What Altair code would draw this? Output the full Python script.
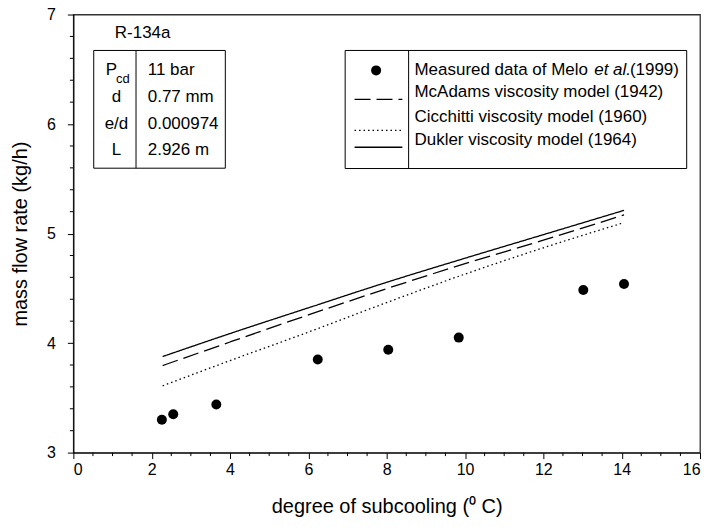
import altair as alt
import pandas as pd

# ---- data ----
meas_x = [2.26, 2.55, 3.65, 6.24, 8.04, 9.84, 13.02, 14.06]
meas_y = [3.30, 3.35, 3.44, 3.85, 3.94, 4.05, 4.485, 4.54]

model_x = [2.28, 4.0, 6.0, 8.0, 10.0, 12.0, 14.06]
dukler_y = [3.877, 4.087, 4.322, 4.555, 4.775, 4.99, 5.212]
mcadams_y = [3.795, 4.01, 4.257, 4.497, 4.725, 4.94, 5.17]
cicchitti_y = [3.61, 3.84, 4.10, 4.37, 4.63, 4.87, 5.10]

models = ["McAdams", "Cicchitti", "Dukler"]

x_major = [0, 2, 4, 6, 8, 10, 12, 14, 16]
x_minor = [0.5, 1, 1.5, 2.5, 3, 3.5, 4.5, 5, 5.5, 6.5, 7, 7.5, 8.5, 9, 9.5,
           10.5, 11, 11.5, 12.5, 13, 13.5, 14.5, 15, 15.5]
y_major = [3, 4, 5, 6, 7]
y_minor = [3.2, 3.4, 3.6, 3.8, 4.2, 4.4, 4.6, 4.8, 5.2, 5.4, 5.6, 5.8,
           6.2, 6.4, 6.6, 6.8]

FONT = "Liberation Sans"

meas_df = pd.DataFrame({"x": meas_x, "y": meas_y})
rows = []
for name, ys in zip(models, [mcadams_y, cicchitti_y, dukler_y]):
    for xv, yv in zip(model_x, ys):
        rows.append({"x": xv, "y": yv, "model": name})
model_df = pd.DataFrame(rows)

dash_scale = alt.Scale(domain=models, range=[[16, 6], [1.5, 3], [1, 0]])

x_enc = alt.X(
    "x:Q",
    scale=alt.Scale(domain=[0, 16], nice=False, zero=False),
    axis=alt.Axis(
        values=x_major, format="d", tickSize=6,
        title="degree of subcooling (\u2070 C)",
        grid=False, labelOverlap=False,
        domainColor="black", tickColor="black", labelColor="black", titleColor="black",
        labelFont=FONT, labelFontSize=16, titleFont=FONT, titleFontSize=20,
        titleFontWeight="normal", labelPadding=3, titlePadding=19,
    ),
)
y_enc = alt.Y(
    "y:Q",
    scale=alt.Scale(domain=[3, 7], nice=False, zero=False),
    axis=alt.Axis(
        values=y_major, format="d", tickSize=6,
        title="mass flow rate (kg/h)",
        grid=False, labelOverlap=False,
        domainColor="black", tickColor="black", labelColor="black", titleColor="black",
        labelFont=FONT, labelFontSize=16, titleFont=FONT, titleFontSize=20,
        titleFontWeight="normal", labelPadding=12, titlePadding=16,
    ),
)

lines = alt.Chart(model_df).mark_line(color="black", strokeWidth=1.3, interpolate="monotone").encode(
    x=x_enc, y=y_enc,
    strokeDash=alt.StrokeDash("model:N", scale=dash_scale, legend=None),
    detail="model:N",
)
points = alt.Chart(meas_df).mark_point(filled=True, color="black", size=100, opacity=1).encode(
    x="x:Q", y="y:Q"
)

# ---- minor ticks (outward) ----
xminor_ticks = alt.Chart(pd.DataFrame({"x": x_minor})).mark_rule(color="black", strokeWidth=1).encode(
    x="x:Q", y=alt.value(439), y2=alt.value(442.5))
yminor_ticks = alt.Chart(pd.DataFrame({"y": y_minor})).mark_rule(color="black", strokeWidth=1).encode(
    y="y:Q", x=alt.value(0), x2=alt.value(-3.5))

# ---- inset table (R-134a parameters) ----
tbl_box = pd.DataFrame({"x": [0.52], "x2": [3.88], "y": [5.597], "y2": [6.672]})
box_t = alt.Chart(tbl_box).mark_rect(fill="white", stroke="black", strokeWidth=1).encode(
    x="x:Q", x2="x2:Q", y="y:Q", y2="y2:Q")
div_t = alt.Chart(pd.DataFrame({"x": [1.60], "y": [5.597], "y2": [6.672]})).mark_rule(
    color="black", strokeWidth=1).encode(x="x:Q", y="y:Q", y2="y2:Q")

tbl_labels = ["d", "e/d", "L"]
tbl_values = ["11 bar", "0.77 mm", "0.000974", "2.926 m"]
row_y = [6.49, 6.246, 5.998, 5.761]

lab_df = pd.DataFrame({"x": [1.10] * 3, "y": row_y[1:], "t": tbl_labels})
val_df = pd.DataFrame({"x": [1.90] * 4, "y": row_y, "t": tbl_values})
txt_lab = alt.Chart(lab_df).mark_text(font=FONT, fontSize=17, align="center", baseline="middle", color="black").encode(
    x="x:Q", y="y:Q", text="t:N")
txt_val = alt.Chart(val_df).mark_text(font=FONT, fontSize=17, align="left", baseline="middle", color="black").encode(
    x="x:Q", y="y:Q", text="t:N")
txt_p = alt.Chart(pd.DataFrame({"x": [0.83], "y": [6.49], "t": ["P"]})).mark_text(
    font=FONT, fontSize=17, align="left", baseline="middle", color="black").encode(x="x:Q", y="y:Q", text="t:N")
txt_cd = alt.Chart(pd.DataFrame({"x": [1.09], "y": [6.41], "t": ["cd"]})).mark_text(
    font=FONT, fontSize=13, align="left", baseline="middle", color="black").encode(x="x:Q", y="y:Q", text="t:N")
txt_r = alt.Chart(pd.DataFrame({"x": [1.06], "y": [6.83], "t": ["R-134a"]})).mark_text(
    font=FONT, fontSize=17, align="left", baseline="middle", color="black").encode(x="x:Q", y="y:Q", text="t:N")

# ---- custom legend box ----
leg_box = alt.Chart(pd.DataFrame({"x": [6.94], "x2": [15.66], "y": [5.594], "y2": [6.672]})).mark_rect(
    fill="white", stroke="black", strokeWidth=1).encode(x="x:Q", x2="x2:Q", y="y:Q", y2="y2:Q")
leg_div = alt.Chart(pd.DataFrame({"x": [8.56], "y": [5.594], "y2": [6.672]})).mark_rule(
    color="black", strokeWidth=1).encode(x="x:Q", y="y:Q", y2="y2:Q")

leg_texts = ["McAdams viscosity model (1942)", "Cicchitti viscosity model (1960)", "Dukler viscosity model (1964)"]
leg_text_y = [6.29, 6.065, 5.85]
leg_df = pd.DataFrame({"x": [8.71] * 3, "y": leg_text_y, "t": leg_texts})
leg_txt = alt.Chart(leg_df).mark_text(font=FONT, fontSize=17, align="left", baseline="middle", color="black").encode(
    x="x:Q", y="y:Q", text="t:N")
meas_parts = pd.DataFrame({"x": [8.71, 13.30, 14.21], "y": [6.49] * 3,
                           "t": ["Measured data of Melo", "et al.", "(1999)"],
                           "s": ["normal", "italic", "normal"]})
leg_meas_n = alt.Chart(meas_parts[meas_parts.s == "normal"]).mark_text(
    font=FONT, fontSize=17, align="left", baseline="middle", color="black").encode(x="x:Q", y="y:Q", text="t:N")
leg_meas_i = alt.Chart(meas_parts[meas_parts.s == "italic"]).mark_text(
    font=FONT, fontSize=17, fontStyle="italic", align="left", baseline="middle", color="black").encode(
    x="x:Q", y="y:Q", text="t:N")

leg_dot = alt.Chart(pd.DataFrame({"x": [7.73], "y": [6.49]})).mark_point(
    filled=True, color="black", size=100, opacity=1).encode(x="x:Q", y="y:Q")
leg_lines_df = pd.DataFrame({"x": [7.18] * 3, "x2": [8.40] * 3, "y": [6.225, 5.943, 5.788], "model": models})
leg_lines = alt.Chart(leg_lines_df).mark_rule(color="black", strokeWidth=1.3).encode(
    x="x:Q", x2="x2:Q", y="y:Q",
    strokeDash=alt.StrokeDash("model:N", scale=dash_scale, legend=None),
)

chart = alt.layer(
    lines, points, xminor_ticks, yminor_ticks, box_t, div_t, txt_lab, txt_val, txt_p, txt_cd, txt_r,
    leg_box, leg_div, leg_txt, leg_meas_n, leg_meas_i, leg_dot, leg_lines,
).properties(
    width=628, height=439,
    autosize=alt.AutoSizeParams(type="none"),
    padding={"left": 65.5, "top": 6, "right": 4, "bottom": 70},
    background="white",
).configure_view(stroke="#333", strokeWidth=1.3)

chart.save("out.html", embed_options={"renderer": "svg", "actions": False})
